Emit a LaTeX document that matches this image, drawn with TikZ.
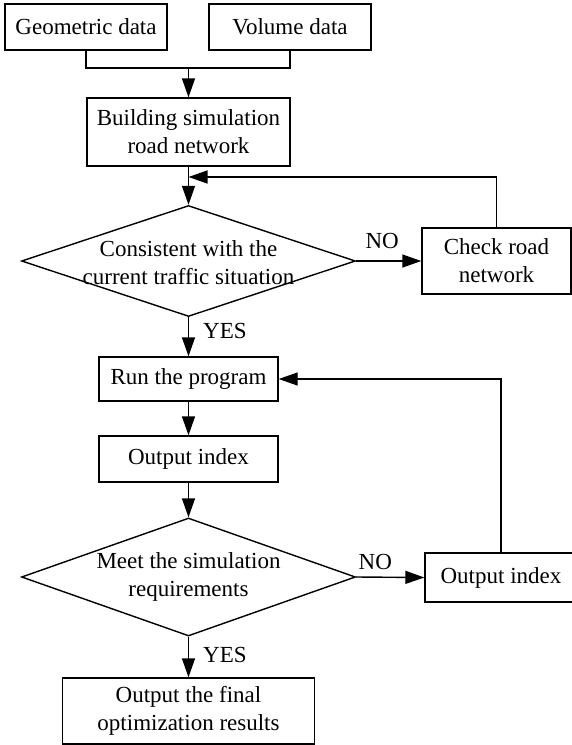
\documentclass[tikz,border=0pt]{standalone}
\usepackage{fontspec}
\setmainfont{Liberation Serif}
\usetikzlibrary{shapes.geometric,arrows.meta}
\begin{document}
\begin{tikzpicture}[x=1pt, y=-1pt, line width=1.4pt, font=\fontsize{23}{28}\selectfont,
    main/.style = {draw, rectangle, align=center, inner sep=0pt},
    test/.style = {draw, diamond, inner sep=0pt, minimum width=334},
    flow/.style = {-{Triangle[length=19pt, width=13pt]}}
    ]
    \useasboundingbox (0,0) rectangle (572,745);

    \node[main, minimum width=162, minimum height=46] (0) at (86,27) {Geometric data};
    \node[main, minimum width=162, minimum height=46] (1) at (290,27) {Volume data};
    \node[main, minimum width=203, minimum height=68] (2) at (188.5,132) {Building simulation\\road network};

    \node[test, minimum height=111, label={[align=center, yshift=-2pt]center:{Consistent with the\\current traffic situation}}] (3) at (188.5,261) {};
    \node[main, minimum width=149, minimum height=66] (4) at (496.5,261) {Check road\\network};

    \node[main, minimum width=179, minimum height=44] (5) at (188.5,379) {Run the program};
    \node[main, minimum width=179, minimum height=46] (6) at (188.5,459) {Output index};

    \node[test, minimum height=118, label={[align=center]center:{Meet the simulation\\requirements}}] (7) at (188.5,577) {};
    \node[main, minimum width=152, minimum height=49] (8) at (501,577.5) {Output index};

    \node[main, minimum width=252, minimum height=66] (9) at (188.5,711) {Output the final\\optimization results};

    \coordinate (j) at (188.5,68);
    \coordinate (k) at (188.5,177);

    \draw[-] (0.south) |- (j);
    \draw[-] (1.south) |- (j);
    \draw[flow] (j) -- (2.north);

    \draw[flow] (2.south) -- (3.north);
    \draw[flow] (4.north) |- (k);
    \draw[flow] (3.east) -- node[above=12pt, pos=0.4, inner sep=0pt] {NO} (4.west);
    \draw[flow] (3.south) -- node[right=14pt, pos=0.35, inner sep=0pt] {YES} (5.north);

    \draw[flow] (5) -- (6);
    \draw[flow] (6.south) -- (7.north);
    \draw[flow] (7.east) -- node[above=7pt, pos=0.28, inner sep=0pt] {NO} (8.west);
    \draw[flow] (8.north) |- (5.east);
    \draw[flow] (7.south) -- node[right=14pt, pos=0.45, inner sep=0pt] {YES} (9.north);

\end{tikzpicture}
\end{document}
